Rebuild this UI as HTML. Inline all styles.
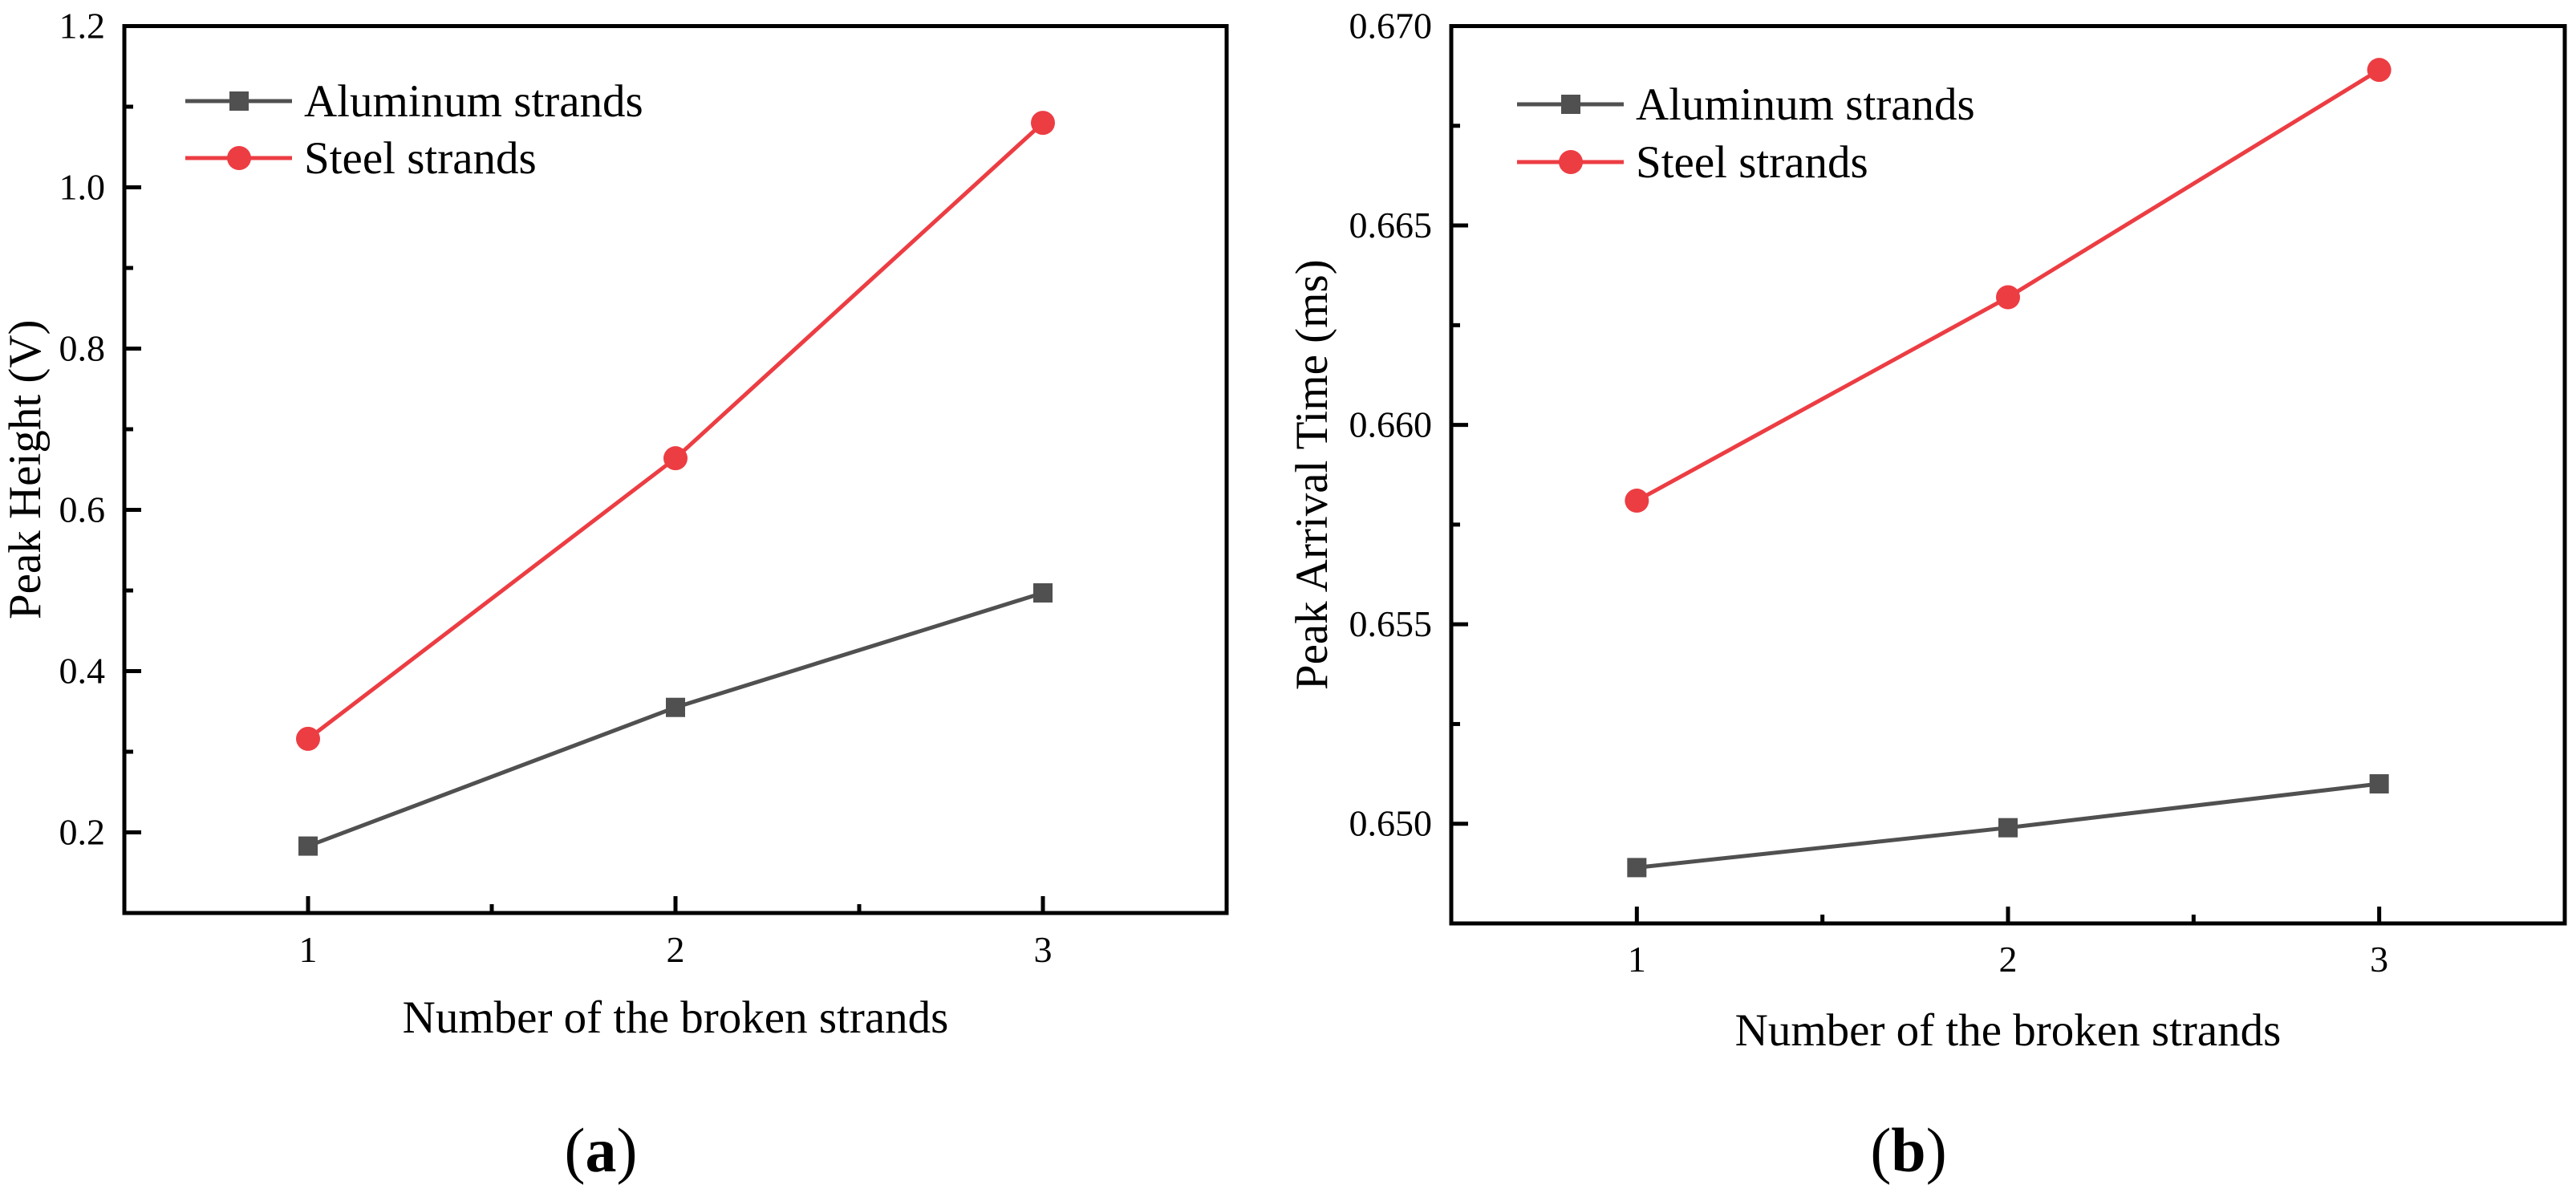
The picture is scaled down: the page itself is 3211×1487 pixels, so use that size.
<!DOCTYPE html>
<html><head><meta charset="utf-8">
<style>
html,body{margin:0;padding:0;background:#fff;}
svg{display:block;font-family:"Liberation Serif","DejaVu Serif",serif;}
</style></head>
<body>
<svg id="fig" width="3211" height="1487" viewBox="0 0 3211 1487" xmlns="http://www.w3.org/2000/svg"></svg>
<script>
const categories = [1, 2, 3];
const aAluminum = [0.183, 0.355, 0.497];
const aSteel = [0.316, 0.664, 1.080];
const aTicks = ["0.2", "0.4", "0.6", "0.8", "1.0", "1.2"];
const bAluminum = [0.6489, 0.6499, 0.6510];
const bSteel = [0.6581, 0.6632, 0.6689];
const bTicks = ["0.650", "0.655", "0.660", "0.665", "0.670"];
const xTickLabels = ["1", "2", "3"];

const NS = "http://www.w3.org/2000/svg";
const svg = document.getElementById('fig');
function mk(tag, attrs, parent) {
  const e = document.createElementNS(NS, tag);
  for (const k in attrs) e.setAttribute(k, attrs[k]);
  (parent || svg).appendChild(e);
  return e;
}
const GRAY = "#505050", RED = "#ec3d43";

function panel(cfg) {
  const g = mk('g', {});
  
  
  const L = cfg.left, R = cfg.right, T = cfg.top, B = cfg.bottom;
  const xs = v => L + (v - 0.5) / 3 * (R - L);
  const ys = v => B - (v - cfg.ymin) / (cfg.ymax - cfg.ymin) * (B - T);
  const yt = mk('g', {}, g);
  
  
  cfg.ticks.forEach(t => {
    const v = parseFloat(t), y = ys(v);
    mk('line', {x1: L, x2: L + 21, y1: y, y2: y, stroke: '#000', 'stroke-width': 5}, yt);
    const tx = mk('text', {x: L - 24, y: y + 15, 'font-size': 46, 'text-anchor': 'end', fill: '#000'}, yt);
    tx.textContent = t;
    
    
    const m = v - cfg.step / 2;
    if (m > cfg.ymin) mk('line', {x1: L, x2: L + 11, y1: ys(m), y2: ys(m), stroke: '#000', 'stroke-width': 5}, yt);
  });
  const lastMinor = parseFloat(cfg.ticks[cfg.ticks.length - 1]) + cfg.step / 2;
  if (lastMinor < cfg.ymax) mk('line', {x1: L, x2: L + 11, y1: ys(lastMinor), y2: ys(lastMinor), stroke: '#000', 'stroke-width': 5}, yt);
  const xt = mk('g', {}, g);
  
  
  categories.forEach((c, i) => {
    const x = xs(c);
    mk('line', {x1: x, x2: x, y1: B, y2: B - 21, stroke: '#000', 'stroke-width': 5}, xt);
    const tx = mk('text', {x: x, y: cfg.xlabY, 'font-size': 46, 'text-anchor': 'middle', fill: '#000'}, xt);
    tx.textContent = xTickLabels[i];
    
    
    if (i < categories.length - 1) {
      const mx = xs(c + 0.5);
      mk('line', {x1: mx, x2: mx, y1: B, y2: B - 11, stroke: '#000', 'stroke-width': 5}, xt);
    }
  });
  const series = [
    {vals: cfg.al, color: GRAY, shape: 'square', name: 'aluminum-series'},
    {vals: cfg.st, color: RED, shape: 'circle', name: 'steel-series'}
  ];
  series.forEach(s => {
    const sg = mk('g', {}, g);
    
    
    const pts = categories.map((c, i) => xs(c) + ',' + ys(s.vals[i])).join(' ');
    const pl = mk('polyline', {points: pts, fill: 'none', stroke: s.color, 'stroke-width': 5}, sg);
    
    
    categories.forEach((c, i) => {
      const x = xs(c), y = ys(s.vals[i]);
      let m;
      if (s.shape === 'square') m = mk('rect', {x: x - 12, y: y - 12, width: 24, height: 24, fill: s.color}, sg);
      else m = mk('circle', {cx: x, cy: y, r: 15, fill: s.color}, sg);
      
      
    });
  });
  const fr = mk('rect', {x: L, y: T, width: R - L, height: B - T, fill: 'none', stroke: '#000', 'stroke-width': 5}, g);
  
  
  const lg = mk('g', {}, g);
  
  
  [['Aluminum strands', GRAY, 'square', cfg.legY[0]], ['Steel strands', RED, 'circle', cfg.legY[1]]].forEach(e => {
    const eg = mk('g', {}, lg);
    
    
    const lx = cfg.legX;
    mk('line', {x1: lx, x2: lx + 133, y1: e[3], y2: e[3], stroke: e[1], 'stroke-width': 5}, eg);
    if (e[2] === 'square') mk('rect', {x: lx + 55, y: e[3] - 12, width: 24, height: 24, fill: e[1]}, eg);
    else mk('circle', {cx: lx + 67, cy: e[3], r: 15, fill: e[1]}, eg);
    const t = mk('text', {x: lx + 148, y: e[3] + 19, 'font-size': 57, fill: '#000'}, eg);
    t.textContent = e[0];
  });
  const xtTitle = mk('text', {x: (L + R) / 2, y: cfg.xtitleY, 'font-size': 57, 'text-anchor': 'middle', fill: '#000'}, g);
  xtTitle.textContent = 'Number of the broken strands';
  
  
  const cy = (T + B) / 2;
  const ytTitle = mk('text', {x: cfg.ytitleX, y: cy, 'font-size': 57, 'text-anchor': 'middle', fill: '#000', transform: 'rotate(-90 ' + cfg.ytitleX + ' ' + cy + ')'}, g);
  ytTitle.textContent = cfg.ytitle;
  
  
  const pl = mk('text', {x: cfg.panelX, y: 1460, 'font-size': 78, 'text-anchor': 'middle', fill: '#000'}, g);
  pl.innerHTML = '(<tspan font-weight="bold">' + cfg.letter + '</tspan>)';
  
  
}

panel({name: 'panel-a', left: 155, right: 1529, top: 32.5, bottom: 1138, ymin: 0.1, ymax: 1.2, step: 0.2,
  ticks: aTicks, al: aAluminum, st: aSteel, xlabY: 1199, xtitleY: 1287, ytitleX: 50,
  ytitle: 'Peak Height (V)', legX: 231, legY: [126, 197], panelX: 749, letter: 'a'});
panel({name: 'panel-b', left: 1809, right: 3197, top: 32.5, bottom: 1151, ymin: 0.6475, ymax: 0.670, step: 0.005,
  ticks: bTicks, al: bAluminum, st: bSteel, xlabY: 1211, xtitleY: 1303, ytitleX: 1654,
  ytitle: 'Peak Arrival Time (ms)', legX: 1891, legY: [130, 202], panelX: 2379, letter: 'b'});
</script>
</body></html>
